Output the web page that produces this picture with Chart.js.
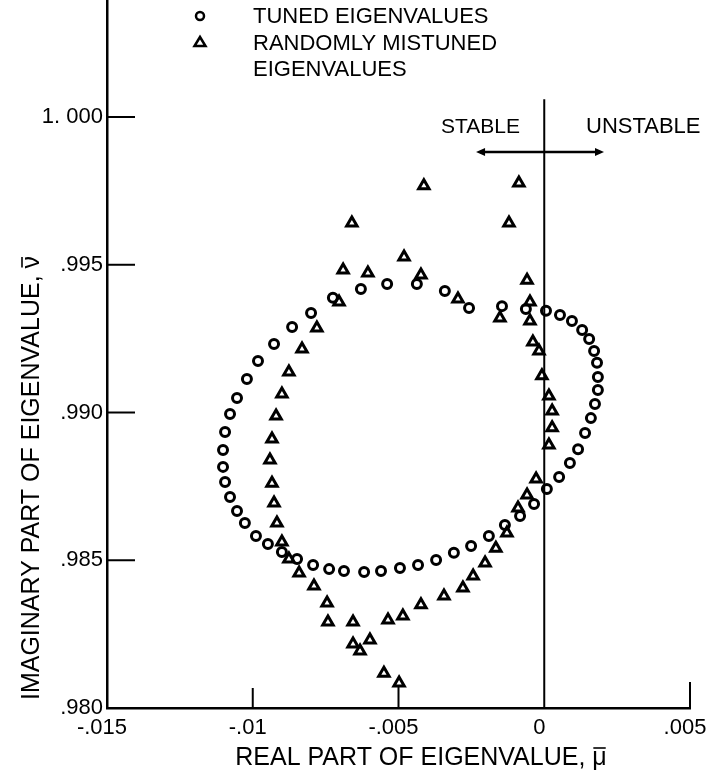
<!DOCTYPE html>
<html>
<head>
<meta charset="utf-8">
<script src="https://cdn.jsdelivr.net/npm/chart.js@4.4.1/dist/chart.umd.min.js"></script>
<style>
  html, body { margin: 0; padding: 0; background: #fff; }
  #wrap { width: 706px; height: 782px; }
</style>
</head>
<body>
<div id="wrap"><canvas id="chart" width="706" height="782"></canvas></div>
<script>
const tunedReal = [
  0.00006, -0.00063, -0.00145, -0.00258, -0.00341, -0.00437, -0.00539, -0.00629,
  -0.00725, -0.00800, -0.00865, -0.00927, -0.00982, -0.01020, -0.01054, -0.01078,
  -0.01095, -0.01102, -0.01102, -0.01095, -0.01078, -0.01054, -0.01027, -0.00989,
  -0.00948, -0.00900, -0.00848, -0.00793, -0.00738, -0.00687, -0.00618, -0.00560,
  -0.00495, -0.00433, -0.00371, -0.00310, -0.00251, -0.00190, -0.00135, -0.00083,
  -0.00035, 0.00009, 0.00051, 0.00088, 0.00116, 0.00140, 0.00160, 0.00174,
  0.00184, 0.00184, 0.00181, 0.00171, 0.00154, 0.00130, 0.00095, 0.00054
];
const tunedImag = [
  0.99344, 0.99350, 0.99360, 0.99354, 0.99411, 0.99435, 0.99435, 0.99418,
  0.99388, 0.99337, 0.99289, 0.99232, 0.99174, 0.99113, 0.99049, 0.98995,
  0.98934, 0.98873, 0.98816, 0.98765, 0.98714, 0.98667, 0.98626, 0.98582,
  0.98555, 0.98528, 0.98504, 0.98484, 0.98470, 0.98464, 0.98460, 0.98464,
  0.98474, 0.98484, 0.98501, 0.98525, 0.98548, 0.98582, 0.98619, 0.98650,
  0.98690, 0.98741, 0.98782, 0.98829, 0.98876, 0.98931, 0.98981, 0.99029,
  0.99076, 0.99120, 0.99168, 0.99208, 0.99249, 0.99279, 0.99310, 0.99330
];

// randomly mistuned eigenvalues
const mistunedReal = [
  -0.00413, -0.00087, -0.00121, -0.00660, -0.00481, -0.00605, -0.00690, -0.00423,
  -0.00296, -0.00059, -0.00049, -0.00152, -0.00049, -0.00039, -0.00018, -0.00008,
  0.00016, 0.00027, 0.00027, 0.00016, -0.00028, -0.00059, -0.00090, -0.00128,
  -0.00166, -0.00203, -0.00244, -0.00279, -0.00344, -0.00423, -0.00485, -0.00536,
  -0.00598, -0.00632, -0.00656, -0.00656, -0.00742, -0.00745, -0.00790, -0.00841,
  -0.00876, -0.00900, -0.00917, -0.00927, -0.00934, -0.00941, -0.00934, -0.00920,
  -0.00900, -0.00876, -0.00831, -0.00780, -0.00704, -0.00550, -0.00498
];
const mistunedImag = [
  0.99767, 0.99777, 0.99641, 0.99641, 0.99526, 0.99472, 0.99482, 0.99465,
  0.99384, 0.99448, 0.99374, 0.99320, 0.99310, 0.99239, 0.99208, 0.99124,
  0.99056, 0.99005, 0.98948, 0.98890, 0.98775, 0.98721, 0.98677, 0.98592,
  0.98541, 0.98491, 0.98447, 0.98406, 0.98379, 0.98349, 0.98311, 0.98298,
  0.98230, 0.98193, 0.98217, 0.98291, 0.98291, 0.98355, 0.98413, 0.98457,
  0.98504, 0.98562, 0.98626, 0.98694, 0.98761, 0.98839, 0.98910, 0.98988,
  0.99063, 0.99137, 0.99215, 0.99286, 0.99374, 0.98118, 0.98085
];

const xTicks = [-0.015, -0.01, -0.005, 0, 0.005];
const xTickLabels = ['-.015', '-.01', '-.005', '0', '.005'];
const yTicks = [0.980, 0.985, 0.990, 0.995, 1.000];
const yTickLabels = ['.980', '.985', '.990', '.995', '1. 000'];

const FONT = '"Liberation Sans", Arial, sans-serif';

// stable / unstable boundary marks (data units)
const zeroLineTop = 1.0006;
const arrowLevel = 0.99882;
const arrowFrom = -0.00234;
const arrowTo = 0.00205;

function toPoints(xs, ys) {
  return xs.map((v, i) => ({x: v, y: ys[i]}));
}

function arrowHead(ctx, x, y, dx, dy) {
  // small filled head pointing along (dx, dy)
  const len = 9, half = 4;
  const px = -dy, py = dx;
  ctx.beginPath();
  ctx.moveTo(x, y);
  ctx.lineTo(x - dx * len + px * half, y - dy * len + py * half);
  ctx.lineTo(x - dx * len - px * half, y - dy * len - py * half);
  ctx.closePath();
  ctx.fill();
}

// centred text whose last letter gets a bar over it (mu bar, nu bar)
function barredTitle(ctx, text, x, y) {
  ctx.textAlign = 'center';
  ctx.fillText(text, x, y);
  const w = ctx.measureText(text).width;
  const lw = ctx.measureText(text.slice(-1)).width;
  const right = x + w / 2;
  ctx.lineWidth = 1.6;
  ctx.beginPath();
  ctx.moveTo(right - lw + 1, y - 10);
  ctx.lineTo(right - 1, y - 10);
  ctx.stroke();
}

const decorations = {
  id: 'decorations',
  beforeDatasetsDraw(chart) {
    const {ctx, chartArea} = chart;
    const xs = chart.scales.x, ys = chart.scales.y;
    ctx.save();
    ctx.strokeStyle = '#000';
    ctx.fillStyle = '#000';
    ctx.lineWidth = 2;

    // vertical line at zero
    const x0 = xs.getPixelForValue(0);
    ctx.beginPath();
    ctx.moveTo(x0, ys.getPixelForValue(zeroLineTop));
    ctx.lineTo(x0, chartArea.bottom);
    ctx.stroke();

    // inward tick marks
    yTicks.slice(1).forEach(v => {
      const py = ys.getPixelForValue(v);
      ctx.beginPath();
      ctx.moveTo(chartArea.left, py);
      ctx.lineTo(chartArea.left + 28, py);
      ctx.stroke();
    });
    [[-0.01, 20], [-0.005, 22], [0.005, 26]].forEach(([v, len]) => {
      const px = xs.getPixelForValue(v);
      ctx.beginPath();
      ctx.moveTo(px, chartArea.bottom);
      ctx.lineTo(px, chartArea.bottom - len);
      ctx.stroke();
    });

    // stable / unstable arrow
    const ay = ys.getPixelForValue(arrowLevel);
    const a1 = xs.getPixelForValue(arrowFrom), a2 = xs.getPixelForValue(arrowTo);
    ctx.lineWidth = 2.5;
    ctx.beginPath();
    ctx.moveTo(a1 + 4, ay);
    ctx.lineTo(a2 - 4, ay);
    ctx.stroke();
    arrowHead(ctx, a1, ay, -1, 0);
    arrowHead(ctx, a2, ay, 1, 0);

    ctx.font = '21px ' + FONT;
    ctx.textBaseline = 'middle';
    ctx.textAlign = 'right';
    ctx.fillText('STABLE', 520, 127);
    ctx.textAlign = 'left';
    ctx.font = '22px ' + FONT;
    ctx.fillText('UNSTABLE', 586, 127);

    // legend
    ctx.lineWidth = 2.5;
    ctx.beginPath();
    ctx.arc(200, 16, 4, 0, Math.PI * 2);
    ctx.stroke();
    ctx.beginPath();
    ctx.moveTo(200, 37);
    ctx.lineTo(205.5, 46);
    ctx.lineTo(194.5, 46);
    ctx.closePath();
    ctx.stroke();
    ctx.fillText('TUNED EIGENVALUES', 253, 17);
    ctx.fillText('RANDOMLY MISTUNED', 253, 44);
    ctx.fillText('EIGENVALUES', 253, 70);

    // axis titles
    ctx.font = '25px ' + FONT;
    barredTitle(ctx, 'REAL PART OF EIGENVALUE, \u03BC', 421, 758);
    ctx.translate(32, 478);
    ctx.rotate(-Math.PI / 2);
    barredTitle(ctx, 'IMAGINARY PART OF EIGENVALUE, \u03BD', 0, 0);
    ctx.restore();
  }
};

const ctx = document.getElementById('chart');
new Chart(ctx, {
  type: 'scatter',
  data: {
    datasets: [{
      label: 'TUNED EIGENVALUES',
      data: toPoints(tunedReal, tunedImag),
      pointStyle: 'circle',
      pointRadius: 4.5,
      pointBorderWidth: 3,
      borderColor: '#000',
      backgroundColor: 'rgba(0,0,0,0)'
    }, {
      label: 'RANDOMLY MISTUNED EIGENVALUES',
      data: toPoints(mistunedReal, mistunedImag),
      pointStyle: 'triangle',
      pointRadius: 6,
      pointBorderWidth: 3,
      borderColor: '#000',
      backgroundColor: 'rgba(0,0,0,0)'
    }]
  },
  options: {
    responsive: false,
    animation: false,
    events: [],
    layout: {autoPadding: false, padding: {left: 0, right: 16, top: 0, bottom: 0}},
    plugins: {legend: {display: false}, tooltip: {enabled: false}},
    scales: {
      x: {
        type: 'linear',
        min: -0.015,
        max: 0.005,
        grid: {display: false, drawTicks: false},
        border: {display: true, color: '#000', width: 2.5},
        afterBuildTicks: s => { s.ticks = xTicks.map(v => ({value: v})); },
        afterFit: s => { s.height = 74; s.paddingLeft = 0; s.paddingRight = 0; },
        ticks: {
          color: '#000',
          padding: 7,
          maxRotation: 0,
          labelOffset: -5,
          font: {family: FONT, size: 22},
          callback: (v, i) => xTickLabels[i]
        }
      },
      y: {
        type: 'linear',
        min: 0.98,
        max: 1.00396,
        grid: {display: false, drawTicks: false},
        border: {display: true, color: '#000', width: 2.5},
        afterBuildTicks: s => { s.ticks = yTicks.map(v => ({value: v})); },
        afterFit: s => { s.width = 107; s.paddingTop = 0; s.paddingBottom = 0; },
        ticks: {
          color: '#000',
          padding: 4,
          font: {family: FONT, size: 22},
          callback: (v, i) => yTickLabels[i]
        }
      }
    }
  },
  plugins: [decorations]
});
</script>
</body>
</html>
